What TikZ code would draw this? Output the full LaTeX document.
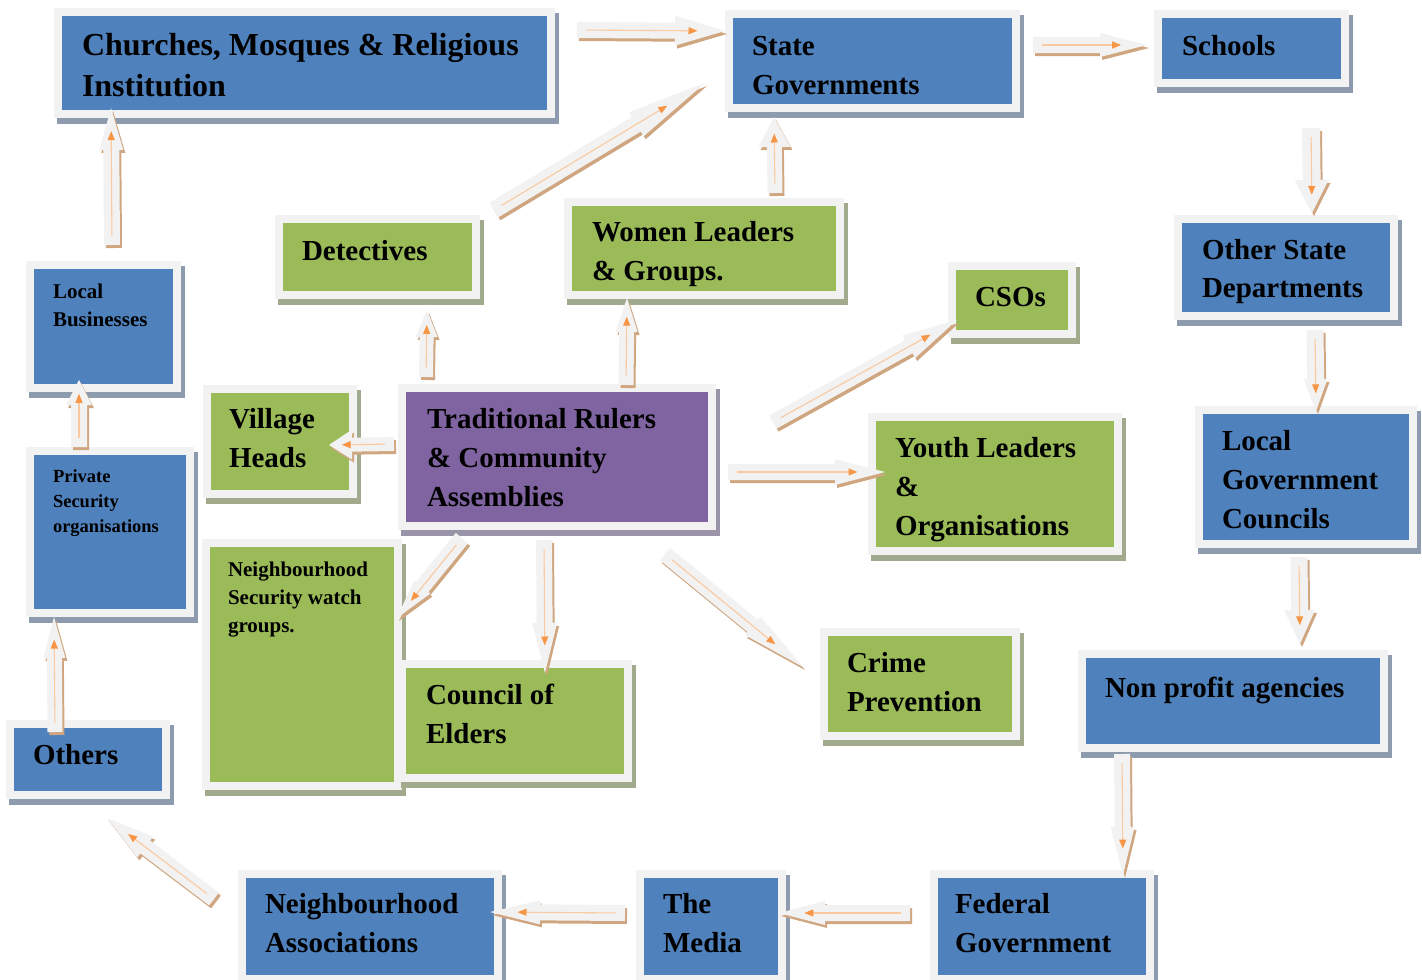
\documentclass[tikz,border=0pt]{standalone}
\usepackage{fontspec}
\setmainfont{Liberation Serif}
\usetikzlibrary{calc,arrows.meta}
\definecolor{boxblue}{HTML}{4F81BD}
\definecolor{boxgreen}{HTML}{9BBB59}
\definecolor{boxpurple}{HTML}{8064A2}
\definecolor{boxblueshadow}{HTML}{8E9AAE}
\definecolor{boxgreenshadow}{HTML}{A2AA8E}
\definecolor{boxpurpleshadow}{HTML}{9A94A8}
\definecolor{framegray}{HTML}{F2F2F2}
\definecolor{arrshadow}{HTML}{CFA680}
\definecolor{arrorange}{HTML}{F79646}
\definecolor{arrlight}{HTML}{FAC9A0}

% #1 name, #2 x0, #3 y0, #4 x1, #5 y1 (inner coloured area), #6 colour
\newcommand{\mybox}[6]{%
  \fill[#6shadow] ({#2-5},{#3-3}) rectangle ({#4+12},{#5+14});
  \fill[framegray] ({#2-8},{#3-8}) rectangle ({#4+8},{#5+8});
  \node[fill=#6, draw=none, inner sep=0pt, outer sep=0pt, anchor=north west,
        minimum width={#4-#2}, minimum height={#5-#3}] (#1) at (#2,#3) {};
}
\newcommand{\arrpath}[4]{%
  ($(#1)!#3pt!90:(#2)$) -- ($(hb)!#3pt!90:(#2)$) -- ($(hb)!#4pt!90:(#2)$) -- (#2)
  -- ($(hb)!#4pt!-90:(#2)$) -- ($(hb)!#3pt!-90:(#2)$) -- ($(#1)!#3pt!-90:(#2)$) -- cycle}
% #1 from, #2 to, #3 shaft half width, #4 head half width, #5 head length
\newcommand{\myarrow}[5]{%
  \coordinate (hb) at ($(#2)!#5pt!(#1)$);
  \begin{scope}[transform canvas={shift={(2,3)}}]
    \fill[arrshadow] \arrpath{#1}{#2}{#3}{#4};
  \end{scope}
  \fill[framegray] \arrpath{#1}{#2}{#3}{#4};
  \draw[arrlight, line width=1.1pt, -{Triangle[length=9pt,width=7pt,color=arrorange]}]
    ($(#1)!9pt!(#2)$) -- ($(hb)!0.45!(#2)$);
}

\begin{document}
\begin{tikzpicture}[x=1pt,y=-1pt,
  lbl/.style={anchor=base west, align=left, inner sep=0pt, outer sep=0pt},
  tbig/.style={lbl, font=\fontsize{32}{41}\selectfont\bfseries},
  tmid/.style={lbl, font=\fontsize{29}{39}\selectfont\bfseries},
  tsmall/.style={lbl, font=\fontsize{21}{28}\selectfont\bfseries},
  tsmaller/.style={lbl, font=\fontsize{18.5}{25}\selectfont\bfseries}]
\useasboundingbox (0,0) rectangle (1422,980);

% ---------------- boxes (text placed at the baseline of its last line) ----------------
\mybox{churches}{62}{16}{547}{110}{boxblue}
\node[tbig] (churches-t) at (82,96) {Churches, Mosques \& Religious\\Institution};

\mybox{state}{733}{18}{1012}{104}{boxblue}
\node[tmid] (state-t) at (752,94) {State\\Governments};

\mybox{schools}{1162}{18}{1341}{79}{boxblue}
\node[tmid] (schools-t) at (1182,55) {Schools};

\mybox{otherstate}{1182}{223}{1390}{312}{boxblue}
\node[tmid,font=\fontsize{29}{38}\selectfont\bfseries] (otherstate-t) at (1202,297) {Other State\\Departments};

\mybox{localgov}{1203}{414}{1409}{540}{boxblue}
\node[tmid] (localgov-t) at (1222,528) {Local\\Government\\Councils};

\mybox{nonprofit}{1086}{658}{1380}{744}{boxblue}
\node[tmid] (nonprofit-t) at (1105,697) {Non profit agencies};

\mybox{federal}{938}{878}{1146}{975}{boxblue}
\node[tmid] (federal-t) at (955,952) {Federal\\Government};

\mybox{media}{644}{878}{778}{975}{boxblue}
\node[tmid] (media-t) at (663,952) {The\\Media};

\mybox{nassoc}{246}{878}{494}{975}{boxblue}
\node[tmid] (nassoc-t) at (265,952) {Neighbourhood\\Associations};

\mybox{others}{14}{728}{162}{791}{boxblue}
\node[tmid] (others-t) at (33,764) {Others};

\mybox{privsec}{34}{455}{186}{609}{boxblue}
\node[tsmaller] (privsec-t) at (53,532) {Private\\Security\\organisations};

\mybox{localbus}{34}{269}{173}{384}{boxblue}
\node[tsmall] (localbus-t) at (53,326) {Local\\Businesses};

\mybox{detectives}{283}{223}{472}{291}{boxgreen}
\node[tmid] (detectives-t) at (302,260) {Detectives};

\mybox{women}{572}{206}{836}{291}{boxgreen}
\node[tmid] (women-t) at (592,280) {Women Leaders\\\& Groups.};

\mybox{csos}{956}{270}{1068}{330}{boxgreen}
\node[tmid] (csos-t) at (975,306) {CSOs};

\mybox{village}{211}{393}{349}{490}{boxgreen}
\node[tmid] (village-t) at (229,467) {Village\\Heads};

\mybox{trad}{406}{392}{708}{522}{boxpurple}
\node[tmid] (trad-t) at (427,506) {Traditional Rulers\\\& Community\\Assemblies};

\mybox{youth}{876}{421}{1114}{547}{boxgreen}
\node[tmid] (youth-t) at (895,535) {Youth Leaders\\\&\\Organisations};

\mybox{crime}{828}{636}{1012}{732}{boxgreen}
\node[tmid] (crime-t) at (847,711) {Crime\\Prevention};

\mybox{nswatch}{210}{547}{394}{782}{boxgreen}
\node[tsmall] (nswatch-t) at (228,632) {Neighbourhood\\Security watch\\groups.};

\mybox{council}{406}{668}{624}{774}{boxgreen}
\node[tmid] (council-t) at (426,743) {Council of\\Elders};

% ---------------- connector end points ----------------
\coordinate (a1s) at (577,30);   \coordinate (a1e) at (725,31);
\coordinate (a2s) at (494,210);  \coordinate (a2e) at (705,83);
\coordinate (a3s) at (1033,45);  \coordinate (a3e) at (1147,45);
\coordinate (a4s) at (1311,128); \coordinate (a4e) at (1312,213);
\coordinate (a5s) at (1315,330); \coordinate (a5e) at (1316,411);
\coordinate (a6s) at (1299,557); \coordinate (a6e) at (1300,644);
\coordinate (a7s) at (1122,754); \coordinate (a7e) at (1123,875);
\coordinate (a8s) at (910,913);  \coordinate (a8e) at (779,913);
\coordinate (a9s) at (625,913);  \coordinate (a9e) at (490,912);
\coordinate (a10s) at (214,899); \coordinate (a10e) at (107,818);
\coordinate (a11s) at (55,732);  \coordinate (a11e) at (54,617);
\coordinate (a12s) at (79,447);  \coordinate (a12e) at (79,380);
\coordinate (a13s) at (112,245); \coordinate (a13e) at (111,108);
\coordinate (a14s) at (394,444); \coordinate (a14e) at (329,445);
\coordinate (a15s) at (426,377); \coordinate (a15e) at (427,310);
\coordinate (a16s) at (626,385); \coordinate (a16e) at (627,298);
\coordinate (a17s) at (775,193); \coordinate (a17e) at (774,117);
\coordinate (a18s) at (773,422); \coordinate (a18e) at (957,320);
\coordinate (a19s) at (728,472); \coordinate (a19e) at (885,472);
\coordinate (a20s) at (665,554); \coordinate (a20e) at (803,667);
\coordinate (a21s) at (462,538); \coordinate (a21e) at (397,618);
\coordinate (a22s) at (544,540); \coordinate (a22e) at (545,673);

% ---------------- connectors ----------------
\myarrow{a1s}{a1e}{8}{15}{50}
\myarrow{a2s}{a2e}{8.5}{14}{80}
\myarrow{a3s}{a3e}{8}{12}{47}
\myarrow{a4s}{a4e}{9}{17}{33}
\myarrow{a5s}{a5e}{8.5}{12}{32}
\myarrow{a6s}{a6e}{8.5}{15.5}{34}
\myarrow{a7s}{a7e}{8}{12}{48}
\myarrow{a8s}{a8e}{8}{12}{46}
\myarrow{a9s}{a9e}{8}{12}{50}
\myarrow{a10s}{a10e}{8}{13}{48}
\myarrow{a11s}{a11e}{7.5}{11}{41}
\myarrow{a12s}{a12e}{8}{13}{25}
\myarrow{a13s}{a13e}{8}{12}{42}
\myarrow{a14s}{a14e}{7}{15}{23}
\myarrow{a15s}{a15e}{7}{11}{27}
\myarrow{a16s}{a16e}{7.5}{11}{34}
\myarrow{a17s}{a17e}{7.5}{16}{30}
\myarrow{a18s}{a18e}{7.5}{13}{55}
\myarrow{a19s}{a19e}{8}{13}{50}
\myarrow{a20s}{a20e}{8}{12}{65}
\myarrow{a21s}{a21e}{8}{10.5}{40}
\myarrow{a22s}{a22e}{8}{12.5}{50}
\end{tikzpicture}
\end{document}
